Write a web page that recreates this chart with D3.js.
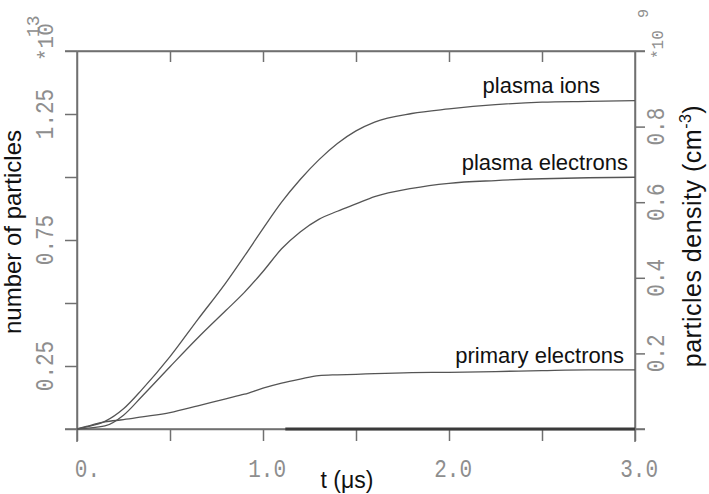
<!DOCTYPE html>
<html><head><meta charset="utf-8">
<script src="https://cdn.jsdelivr.net/npm/d3@7"></script>
<style>
html,body{margin:0;padding:0;background:#fff;}
svg{display:block;}
</style></head>
<body>
<svg id="chart" width="709" height="494"></svg>
<script>
// ---- data ----
const timeUs = [0, 0.05, 0.15, 0.25, 0.35, 0.5, 0.65, 0.8, 0.9, 1.0, 1.1, 1.2, 1.3, 1.4, 1.5, 1.6, 1.8, 2.0, 2.25, 2.5, 2.75, 3.0];
const plasmaIons =       [0, 0.008, 0.030, 0.080, 0.157, 0.287, 0.435, 0.580, 0.686, 0.795, 0.900, 0.990, 1.068, 1.133, 1.183, 1.218, 1.252, 1.270, 1.287, 1.297, 1.300, 1.303];
const plasmaElectrons =  [0, 0.003, 0.012, 0.055, 0.130, 0.247, 0.362, 0.470, 0.542, 0.625, 0.715, 0.782, 0.832, 0.864, 0.893, 0.922, 0.955, 0.975, 0.986, 0.993, 0.997, 0.999];
const primaryElectrons = [0, 0.010, 0.028, 0.037, 0.048, 0.065, 0.092, 0.120, 0.138, 0.162, 0.182, 0.198, 0.212, 0.215, 0.217, 0.220, 0.224, 0.225, 0.228, 0.232, 0.235, 0.235];
const baselineT = [1.12, 3.0];
const baselineV = [0, 0];
const seriesNames = ["plasma ions", "plasma electrons", "primary electrons"];
const xTicks = [0, 0.5, 1.0, 1.5, 2.0, 2.5, 3.0];
const xTickLabels = ["0.", "", "1.0", "", "2.0", "", "3.0"];
const yLeftTicks = [0, 0.25, 0.5, 0.75, 1.0, 1.25, 1.5];
const yLeftLabels = ["", "0.25", "", "0.75", "", "1.25", ""];
const yRightTicks = [0, 0.2, 0.4, 0.6, 0.8, 1.0];
const yRightLabels = ["", "0.2", "0.4", "0.6", "0.8", ""];

// ---- layout ----
const L = 77, R = 635, T = 51, B = 429;
const svg = d3.select("#chart");
const x = d3.scaleLinear().domain([0, 3]).range([L, R]);
const yL = d3.scaleLinear().domain([0, 1.5]).range([B, T]);
const yR = d3.scaleLinear().domain([0, 1.0]).range([B, T]);
const axisCol = "#707070", labCol = "#8e8e8e", lineCol = "#555";
const mono = "'Liberation Mono','DejaVu Sans Mono',monospace";
const sans = "'Liberation Sans',Arial,sans-serif";

// axes via d3 axis generators
const gB = svg.append("g").attr("transform", `translate(0,${B})`)
  .call(d3.axisBottom(x).tickValues(xTicks).tickSize(12).tickSizeOuter(0).tickFormat(""));
const gT = svg.append("g").attr("transform", `translate(0,${T})`)
  .call(d3.axisBottom(x).tickValues(xTicks.slice(1, -1)).tickSize(11).tickSizeOuter(0).tickFormat(""));
const gL = svg.append("g").attr("transform", `translate(${L},0)`)
  .call(d3.axisLeft(yL).tickValues(yLeftTicks).tickSize(12).tickSizeOuter(0).tickFormat(""));
const gR = svg.append("g").attr("transform", `translate(${R},0)`)
  .call(d3.axisRight(yR).tickValues(yRightTicks).tickSize(10).tickSizeOuter(0).tickFormat(""));
[gB, gT, gL, gR].forEach(g => {
  g.selectAll("path.domain").attr("stroke", axisCol).attr("stroke-width", 1.5);
  g.selectAll(".tick line").attr("stroke", axisCol).attr("stroke-width", 1.5);
});
// frame extensions (lines run past the corners)
svg.append("line").attr("x1", 65).attr("x2", 645).attr("y1", T).attr("y2", T).attr("stroke", axisCol).attr("stroke-width", 1.5);
svg.append("line").attr("x1", 65).attr("x2", 645).attr("y1", B).attr("y2", B).attr("stroke", axisCol).attr("stroke-width", 1.5);
svg.append("line").attr("x1", L).attr("x2", L).attr("y1", T).attr("y2", 442).attr("stroke", axisCol).attr("stroke-width", 1.5);
svg.append("line").attr("x1", R).attr("x2", R).attr("y1", T).attr("y2", 442).attr("stroke", axisCol).attr("stroke-width", 1.5);

// tick labels (stretched monospace)
function tickText(tx, ty, rot, txt, anchor, size, sy) {
  svg.append("text")
    .attr("transform", `translate(${tx},${ty}) rotate(${rot}) scale(1,${sy})`)
    .attr("text-anchor", anchor).attr("font-family", mono).attr("font-size", size)
    .attr("fill", labCol).text(txt);
}
xTicks.forEach((v, i) => { if (xTickLabels[i]) tickText(x(v) + 23, 477, 0, xTickLabels[i], "end", 21, 1.25); });
yLeftTicks.forEach((v, i) => { if (yLeftLabels[i]) tickText(53, yL(v), -90, yLeftLabels[i], "middle", 21, 1.25); });
yRightTicks.forEach((v, i) => { if (yRightLabels[i]) tickText(664, yR(v), -90, yRightLabels[i], "middle", 21, 1.25); });
// exponents
tickText(53, 61, -90, "*10", "start", 21, 1.05);
tickText(39, 37, -90, "13", "start", 18, 1.0);
tickText(663, 59, -90, "*10", "start", 16, 1.0);
tickText(648, 18, -90, "9", "start", 15, 1.0);

// curves
const line = d3.line().x(d => x(d[0])).y(d => yL(d[1])).curve(d3.curveMonotoneX);
[plasmaIons, plasmaElectrons, primaryElectrons].forEach(vals => {
  svg.append("path").datum(timeUs.map((t, i) => [t, vals[i]]))
    .attr("d", line).attr("fill", "none").attr("stroke", lineCol).attr("stroke-width", 1.3);
});
svg.append("path").datum(baselineT.map((t, i) => [t, baselineV[i]]))
  .attr("d", d3.line().x(d => x(d[0])).y(d => yL(d[1])))
  .attr("fill", "none").attr("stroke", "#3a3a3a").attr("stroke-width", 3);

// series labels
const labelPos = [[600, 93], [628, 170], [624, 363]];
seriesNames.forEach((n, i) => {
  svg.append("text").attr("x", labelPos[i][0]).attr("y", labelPos[i][1])
    .attr("text-anchor", "end").attr("font-family", sans).attr("font-size", 22)
    .attr("fill", "#111").text(n);
});

// axis titles
svg.append("text").attr("transform", `translate(21,232) rotate(-90)`)
  .attr("text-anchor", "middle").attr("font-family", sans).attr("font-size", 24)
  .attr("fill", "#111").text("number of particles");
const rt = svg.append("text").attr("transform", `translate(701,236) rotate(-90)`)
  .attr("text-anchor", "middle").attr("font-family", sans).attr("font-size", 25)
  .attr("letter-spacing", 0.5).attr("fill", "#111");
rt.append("tspan").text("particles density (cm");
rt.append("tspan").attr("dy", -10).attr("font-size", 16).text("-3");
rt.append("tspan").attr("dy", 10).text(")");
svg.append("text").attr("x", 347).attr("y", 488)
  .attr("text-anchor", "middle").attr("font-family", sans).attr("font-size", 23)
  .attr("fill", "#111").text("t (μs)");
</script>
</body></html>
